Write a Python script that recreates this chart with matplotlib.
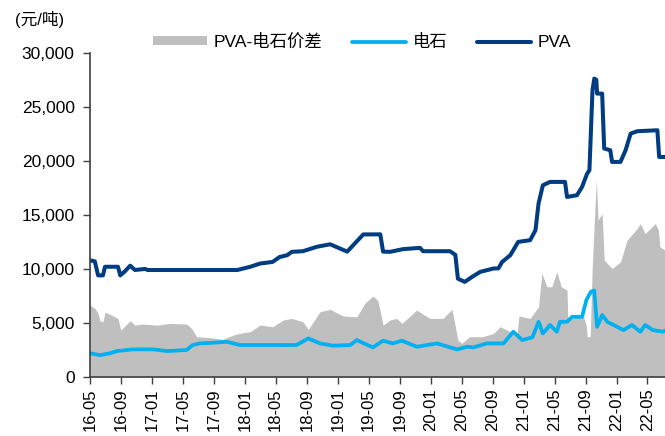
import matplotlib
matplotlib.use("Agg")
import matplotlib.pyplot as plt
import matplotlib.dates as mdates
from matplotlib.ticker import FuncFormatter
import pandas as pd

plt.rcParams['font.family'] = ['Liberation Sans', 'Noto Sans CJK SC']

# PVA 价格 (元/吨)
pva_dates = ["2016-05-01", "2016-05-20", "2016-06-02", "2016-06-21", "2016-06-29", "2016-08-19",
             "2016-08-28", "2016-09-16", "2016-10-06", "2016-10-25", "2016-12-04", "2016-12-13",
             "2017-12-01", "2018-01-21", "2018-03-01", "2018-04-19", "2018-05-16", "2018-06-15",
             "2018-07-03", "2018-08-16", "2018-10-10", "2018-12-01", "2019-02-06", "2019-04-10",
             "2019-06-16", "2019-06-27", "2019-07-24", "2019-09-13", "2019-11-19", "2019-12-01",
             "2020-03-16", "2020-04-06", "2020-04-16", "2020-05-13", "2020-06-11", "2020-07-13",
             "2020-09-03", "2020-09-22", "2020-10-07", "2020-11-08", "2020-12-09", "2021-01-25",
             "2021-02-15", "2021-02-27", "2021-03-16", "2021-04-13", "2021-06-11", "2021-06-19",
             "2021-07-28", "2021-08-17", "2021-09-06", "2021-09-15", "2021-09-27", "2021-10-04",
             "2021-10-12", "2021-10-15", "2021-11-04", "2021-11-12", "2021-12-06", "2021-12-13",
             "2022-01-15", "2022-02-04", "2022-02-24", "2022-03-22", "2022-06-09", "2022-06-16",
             "2022-07-09"]
pva_values = [10800, 10700, 9400, 9400, 10200, 10200,
              9400, 9800, 10300, 9900, 10000, 9900,
              9900, 10200, 10500, 10650, 11100, 11270,
              11580, 11640, 12050, 12280, 11600, 13190,
              13200, 11600, 11580, 11830, 11950, 11640,
              11640, 11300, 9100, 8800, 9270, 9730,
              10040, 10050, 10650, 11270, 12500, 12660,
              13590, 16050, 17740, 18050, 18050, 16660,
              16820, 17590, 18820, 19130, 26520, 27610,
              27500, 26220, 26220, 21140, 20980, 19900,
              19900, 20980, 22520, 22740, 22830, 20360,
              20360]

# 电石价格 (元/吨)
cc_dates = ["2016-05-01", "2016-06-09", "2016-07-18", "2016-08-15", "2016-10-17", "2017-01-04",
            "2017-02-28", "2017-05-16", "2017-06-09", "2017-07-06", "2017-08-27", "2017-10-21",
            "2017-12-12", "2018-01-21", "2018-07-22", "2018-09-06", "2018-10-22", "2018-12-12",
            "2019-02-18", "2019-03-16", "2019-04-09", "2019-05-18", "2019-06-27", "2019-08-04",
            "2019-09-09", "2019-11-06", "2020-01-25", "2020-04-13", "2020-05-22", "2020-06-15",
            "2020-08-09", "2020-10-12", "2020-11-20", "2020-12-25", "2021-02-03", "2021-02-27",
            "2021-03-16", "2021-04-13", "2021-05-10", "2021-05-22", "2021-06-19", "2021-07-09",
            "2021-08-17", "2021-09-03", "2021-09-21", "2021-10-04", "2021-10-15", "2021-11-04",
            "2021-11-24", "2022-01-27", "2022-03-01", "2022-04-03", "2022-04-22", "2022-05-22",
            "2022-07-01", "2022-07-09"]
cc_values = [2190, 2030, 2190, 2400, 2560, 2560,
             2400, 2500, 2960, 3110, 3170, 3260,
             2960, 2960, 2960, 3570, 3110, 2900,
             2960, 3420, 3150, 2740, 3360, 3110,
             3360, 2800, 3110, 2550, 2800, 2740,
             3110, 3110, 4190, 3420, 3670, 5110,
             4030, 4810, 4190, 5110, 5110, 5570,
             5570, 7120, 7900, 8000, 4650, 5730,
             5110, 4340, 4810, 4190, 4810, 4340,
             4190, 4300]

# PVA-电石价差 (元/吨)
spread_dates = ["2016-05-01", "2016-05-20", "2016-06-02", "2016-06-09", "2016-06-21", "2016-06-29",
                "2016-07-18", "2016-08-19", "2016-08-30", "2016-10-06", "2016-10-25", "2016-11-25",
                "2017-01-20", "2017-03-11", "2017-05-16", "2017-06-04", "2017-06-24", "2017-08-15",
                "2017-10-06", "2017-11-15", "2017-12-24", "2018-01-21", "2018-03-01", "2018-04-19",
                "2018-05-30", "2018-07-03", "2018-08-16", "2018-09-06", "2018-10-22", "2018-12-01",
                "2019-01-21", "2019-03-16", "2019-04-16", "2019-05-18", "2019-06-06", "2019-06-27",
                "2019-07-24", "2019-08-19", "2019-09-09", "2019-11-06", "2019-12-28", "2020-02-17",
                "2020-03-24", "2020-04-06", "2020-04-16", "2020-05-01", "2020-06-01", "2020-07-22",
                "2020-09-03", "2020-09-29", "2020-11-08", "2020-12-05", "2020-12-12", "2021-01-25",
                "2021-02-27", "2021-03-12", "2021-04-01", "2021-04-20", "2021-05-10", "2021-05-27",
                "2021-06-19", "2021-06-22", "2021-07-28", "2021-08-20", "2021-09-03", "2021-09-06",
                "2021-09-18", "2021-09-26", "2021-10-12", "2021-10-19", "2021-11-04", "2021-11-12",
                "2021-12-13", "2022-01-15", "2022-02-10", "2022-03-22", "2022-04-03", "2022-04-22",
                "2022-06-01", "2022-06-13", "2022-06-19", "2022-07-09"]
spread_values = [6650, 6350, 5900, 5200, 5110, 6000,
                 5800, 5420, 4340, 5200, 4800, 4900,
                 4800, 4960, 4900, 4500, 3730, 3640,
                 3480, 3880, 4100, 4190, 4810, 4650,
                 5270, 5420, 5110, 4400, 6040, 6260,
                 5640, 5570, 6810, 7490, 7100, 4810,
                 5270, 5420, 4960, 6190, 5420, 5420,
                 6260, 4650, 3420, 3110, 3730, 3730,
                 4030, 4650, 4190, 4030, 5640, 5420,
                 6500, 9580, 8350, 8350, 9730, 8350,
                 8040, 5270, 5570, 5880, 4650, 3730,
                 3730, 10190, 18200, 14510, 15120, 10810,
                 10040, 10650, 12660, 13740, 14200, 13270,
                 14200, 13590, 12040, 11730]

tick_dates = pd.date_range("2016-05-01", "2022-05-01", freq="4MS")

fig = plt.figure(figsize=(6.65, 4.36), dpi=100)
ax = fig.add_axes([0.1353, 0.1353, 0.8647, 0.7437])

ax.fill_between(pd.to_datetime(spread_dates), spread_values, 0, color='#BFBFBF',
                linewidth=0, label='PVA-电石价差')
ax.plot(pd.to_datetime(cc_dates), cc_values, color='#00B0F0', linewidth=2.7,
        solid_joinstyle='round', solid_capstyle='round', label='电石')
ax.plot(pd.to_datetime(pva_dates), pva_values, color='#003C82', linewidth=2.9,
        solid_joinstyle='round', solid_capstyle='round', label='PVA')

ax.set_xlim(pd.Timestamp("2016-05-01"), pd.Timestamp("2022-07-09"))
ax.set_ylim(0, 30000)
ax.set_yticks(range(0, 30001, 5000))
ax.yaxis.set_major_formatter(FuncFormatter(lambda v, p: f"{int(v):,}"))
ax.set_xticks(tick_dates)
ax.xaxis.set_major_formatter(mdates.DateFormatter("%y-%m"))
ax.tick_params(axis='x', labelsize=12, rotation=90, length=5, width=1, pad=3, color='#404040')
ax.tick_params(axis='y', labelsize=12.5, length=5, width=1, pad=6, color='#404040')

for s in ['top', 'right']:
    ax.spines[s].set_visible(False)
for s in ['left', 'bottom']:
    ax.spines[s].set_color('#404040')
    ax.spines[s].set_linewidth(1.2)

fig.text(0.022, 0.955, "(元/吨)", fontsize=12, va='center', ha='left')

fig.legend(loc='center', bbox_to_anchor=(0.545, 0.904), ncol=3, frameon=False,
           fontsize=12.5, handlelength=3.1, handleheight=0.45, handletextpad=0.4,
           columnspacing=1.7)

fig.savefig("out.png", dpi=100)
